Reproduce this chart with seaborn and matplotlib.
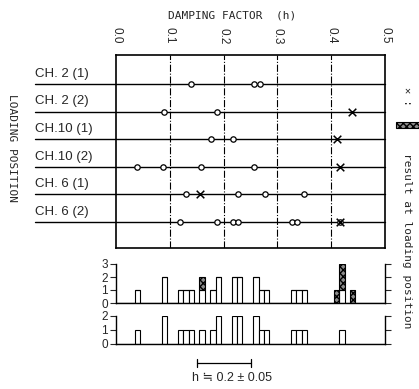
import numpy as np
import pandas as pd
import matplotlib
matplotlib.use("Agg")
import matplotlib.pyplot as plt
import matplotlib.transforms as mtransforms
from matplotlib.patches import Rectangle
import seaborn as sns

# data
rows = ["CH. 2 (1)", "CH. 2 (2)", "CH.10 (1)", "CH.10 (2)", "CH. 6 (1)", "CH. 6 (2)"]
circles = {
    "CH. 2 (1)": [0.139, 0.257, 0.268],
    "CH. 2 (2)": [0.089, 0.187],
    "CH.10 (1)": [0.176, 0.218],
    "CH.10 (2)": [0.039, 0.088, 0.158, 0.256],
    "CH. 6 (1)": [0.130, 0.227, 0.277, 0.349],
    "CH. 6 (2)": [0.119, 0.187, 0.218, 0.227, 0.328, 0.336, 0.416],
}
crosses = {
    "CH. 2 (2)": [0.438],
    "CH.10 (1)": [0.410],
    "CH.10 (2)": [0.416],
    "CH. 6 (1)": [0.156],
    "CH. 6 (2)": [0.416],
}
h_ticks = [0.0, 0.1, 0.2, 0.3, 0.4, 0.5]

recs = []
for r in rows:
    for v in circles.get(r, []):
        recs.append((r, rows.index(r), v, "o"))
    for v in crosses.get(r, []):
        recs.append((r, rows.index(r), v, "x"))
df = pd.DataFrame(recs, columns=["row", "pos", "h", "kind"])

sns.set_style("white")
plt.rcParams["font.family"] = ["Liberation Sans", "DejaVu Sans"]
mono = "DejaVu Sans Mono"

W, H = 419, 389
fig = plt.figure(figsize=(W / 100, H / 100), dpi=100)

def px_axes(x0, y0, x1, y1):
    return fig.add_axes([x0 / W, 1 - y1 / H, (x1 - x0) / W, (y1 - y0) / H])

# ---- main panel
ax = px_axes(116, 55, 385, 248)
ax.set_xlim(0, 0.5)
ax.set_ylim(5.94, -1.05)
for x in h_ticks[1:-1]:
    ax.axvline(x, color="black", lw=0.8, ls="-.", zorder=1)
for i, r in enumerate(rows):
    ax.plot([-0.15, 0.5], [i, i], color="black", lw=1.0, clip_on=False, zorder=2)
    ax.text(-0.15, i - 0.15, r, fontsize=9.5, ha="left", va="bottom")

sns.scatterplot(data=df[df.kind == "o"], x="h", y="pos", ax=ax, marker="o", s=15,
                facecolor="white", edgecolor="black", linewidth=0.9, zorder=4, legend=False)
sns.scatterplot(data=df[df.kind == "x"], x="h", y="pos", ax=ax, marker="x", s=30,
                color="black", linewidth=1.1, zorder=5, legend=False)

ax.xaxis.tick_top()
ax.set_xticks(h_ticks)
ax.set_xticklabels([f"{t:.1f}" for t in h_ticks], rotation=-90, fontsize=8.5)
ax.tick_params(axis="x", length=0, pad=8)
ax.set_yticks([])
ax.set_xlabel("")
ax.set_ylabel("")
for s in ax.spines.values():
    s.set_linewidth(1.2)
    s.set_color("black")

# ---- histograms
edges = np.arange(-0.005, 0.51, 0.01)

def hist_axes(ax_h, data, top, hue_order):
    sns.histplot(data=data, x="h", hue="kind", hue_order=hue_order, multiple="stack",
                 bins=edges, palette={"o": "white", "x": "0.55"}, edgecolor="black",
                 linewidth=0.8, alpha=1, ax=ax_h, legend=False)
    for p in ax_h.patches:
        if p.get_facecolor()[0] < 0.9:
            p.set_hatch("xxxxx")
    ax_h.set_xlim(0, 0.5)
    ax_h.set_ylim(0, top)
    ax_h.set_yticks(range(top + 1))
    ax_h.tick_params(axis="y", length=4, labelsize=8.5, pad=2, left=True, right=True, direction="out")
    ax_h.set_xticks([])
    ax_h.set_xlabel("")
    ax_h.set_ylabel("")
    ax_h.spines["top"].set_visible(False)
    for s in ["left", "right", "bottom"]:
        ax_h.spines[s].set_linewidth(1.0)
        ax_h.spines[s].set_color("black")

ax_h1 = px_axes(116, 264, 385, 303)
hist_axes(ax_h1, df, 3, ["x", "o"])
ax_h2 = px_axes(116, 316, 385, 344)
hist_axes(ax_h2, df[df.kind == "o"], 2, ["o"])

# bracket h = 0.2 +- 0.05
tr = mtransforms.blended_transform_factory(ax_h2.transData, ax_h2.transAxes)
ax_h2.plot([0.15, 0.25], [-0.68, -0.68], color="black", lw=0.9, transform=tr, clip_on=False)
ax_h2.plot([0.15, 0.15], [-0.55, -0.82], color="black", lw=0.9, transform=tr, clip_on=False)
ax_h2.plot([0.25, 0.25], [-0.55, -0.82], color="black", lw=0.9, transform=tr, clip_on=False)
fig.text(232 / W, 1 - 378 / H, "h ≒ 0.2 ± 0.05", ha="center", va="center", fontsize=9)

# titles and side labels
fig.text(232 / W, 1 - 15 / H, "DAMPING FACTOR  (h)", ha="center", va="center",
         fontsize=8, family=mono)
fig.text(12 / W, 1 - 148 / H, "LOADING POSITION", rotation=-90, ha="center", va="center",
         fontsize=8, family=mono)
fig.text(407 / W, 1 - 96 / H, "✕ :", rotation=-90, ha="center", va="center",
         fontsize=7.5, family=mono)
fig.add_artist(Rectangle((396 / W, 1 - 128 / H), 24 / W, 6 / H, transform=fig.transFigure,
                         facecolor="0.55", edgecolor="black", hatch="xxxxx", lw=0.8))
fig.text(407 / W, 1 - 241 / H, "result at loading position", rotation=-90, ha="center",
         va="center", fontsize=8, family=mono)

fig.savefig("out.png", dpi=100)
